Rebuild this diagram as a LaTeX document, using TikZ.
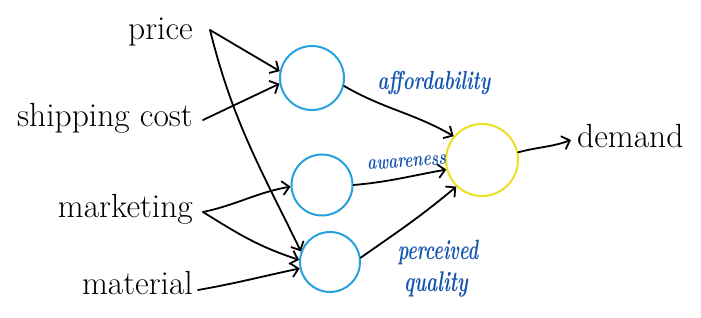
\documentclass[tikz,border=0pt]{standalone}
\usepackage{fontspec}
\usetikzlibrary{arrows.meta}
\definecolor{cblue}{RGB}{40,160,220}
\definecolor{lblue}{RGB}{20,85,175}
\definecolor{cyell}{RGB}{235,225,30}
\newcommand{\handtxt}[2]{\scalebox{1}[#1]{#2}}
\begin{document}
\begin{tikzpicture}[x=1pt,y=1pt,
  inputtxt/.style={inner sep=0pt,font=\fontsize{33.5}{36}\selectfont},
  unit/.style={circle,draw=cblue,line width=2pt,inner sep=0pt},
  outunit/.style={circle,draw=cyell,line width=2pt,inner sep=0pt},
  hand/.style={inner sep=0pt,text=lblue},
  conn/.style={line width=1.8pt,-{Straight Barb[length=7pt,width=14pt]},line cap=round,line join=round}]
\useasboundingbox (0,0) rectangle (701,318);
% input texts
\node[inputtxt,anchor=base east] (price) at (193,278) {price};
\node[inputtxt,anchor=base east] (ship) at (193,191) {shipping cost};
\node[inputtxt,anchor=base east] (mark) at (193,100) {marketing};
\node[inputtxt,anchor=base east] (mat) at (193,23) {material};
\node[inputtxt,anchor=base west] (dem) at (577,170) {demand};
% units
\node[unit,minimum size=64pt] (c1) at (312,240) {};
\node[unit,minimum size=61pt] (c2) at (322,133) {};
\node[unit,minimum size=60pt] (c3) at (330,56) {};
\node[outunit,minimum size=72pt] (y) at (482,158) {};
% labels
\node[hand,anchor=base,font=\bfseries\itshape\fontsize{18.6}{20}\selectfont] (laff) at (434,228) {\handtxt{1.4}{affordability}};
\node[hand,anchor=base,rotate=4,font=\bfseries\itshape\fontsize{15.5}{17}\selectfont] (law) at (407,151) {\handtxt{1.35}{awareness}};
\node[hand,anchor=base,font=\bfseries\itshape\fontsize{18}{20}\selectfont] (lper) at (438,58) {\handtxt{1.55}{perceived}};
\node[hand,anchor=base,font=\bfseries\itshape\fontsize{19}{21}\selectfont] (lqual) at (436,26) {\handtxt{1.5}{quality}};
% free ends
\coordinate (ps) at ([xshift=17pt,yshift=10pt]price.base east);
\coordinate (ss) at ([xshift=10pt,yshift=7pt]ship.base east);
\coordinate (ms) at ([xshift=10pt,yshift=6pt]mark.base east);
\coordinate (ts) at ([xshift=5pt,yshift=5pt]mat.base east);
\coordinate (de) at ([xshift=-6pt,yshift=8pt]dem.base west);
% connectors
\draw[conn] (ps) -- (c1.168);
\draw[conn] (ps) to[out=-76,in=116] (c3.160);
\draw[conn] (ss) -- (c1.190);
\draw[conn] (ms) to[out=12,in=190] (c2.183);
\draw[conn] (ms) to[out=-32,in=162] (c3.176);
\draw[conn] (ts) to[out=10,in=192] (c3.192);
\draw[conn] (c1.-14) to[out=-30,in=150] (y.140);
\draw[conn] (c2.0) to[out=5,in=190] (y.195);
\draw[conn] (c3.8) to[out=35,in=220] (y.226);
\draw[conn] (y.12) to[out=15,in=200] (de);
\end{tikzpicture}
\end{document}
